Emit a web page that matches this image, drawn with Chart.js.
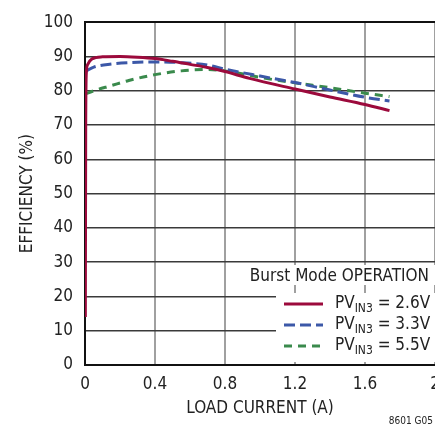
<!DOCTYPE html>
<html>
<head>
<meta charset="utf-8">
<script src="https://cdn.jsdelivr.net/npm/chart.js@4"></script>
<style>
  body { margin: 0; background: #fff; }
  canvas { display: block; }
</style>
</head>
<body>
<canvas id="efficiency" width="435" height="436"></canvas>
<script>
// load current (A) / efficiency (%) for each input voltage
const current26 = [0.002, 0.004, 0.008, 0.015, 0.04, 0.1, 0.2, 0.3, 0.4, 0.5, 0.6, 0.7, 0.8, 0.94, 1.2, 1.4, 1.6, 1.74];
const eff26 = [14, 70, 85.5, 87.6, 89.3, 89.9, 90, 89.8, 89.4, 88.6, 87.7, 86.8, 85.6, 83.6, 80.5, 78.2, 76, 74.2];

const current33 = [0.004, 0.05, 0.15, 0.25, 0.4, 0.55, 0.7, 0.8, 1.0, 1.2, 1.4, 1.6, 1.74];
const eff33 = [85.7, 86.9, 87.8, 88.2, 88.4, 88.2, 87.5, 86.3, 84.3, 82.4, 80.2, 78.1, 77];

const current55 = [0.004, 0.05, 0.15, 0.25, 0.4, 0.55, 0.7, 0.8, 1.0, 1.2, 1.4, 1.6, 1.74];
const eff55 = [79.1, 80, 81.5, 83, 84.7, 85.8, 86.2, 85.8, 83.9, 82.3, 80.9, 79.3, 78.3];

const xTicks = ['0', '0.4', '0.8', '1.2', '1.6', '2'];
const legendLabels = ['2.6V', '3.3V', '5.5V'];

const FONT = "'Liberation Sans Narrow', 'DejaVu Sans Condensed', sans-serif";

function points(xs, ys) {
  return xs.map((x, i) => ({ x: x, y: ys[i] }));
}

Chart.defaults.font.family = FONT;
Chart.defaults.color = '#222';

// white patches behind the legend text, then the legend itself
const legendPlugin = {
  id: 'legendBox',
  beforeDatasetsDraw(chart) {
    const ctx = chart.ctx;
    ctx.save();
    ctx.fillStyle = '#fff';
    ctx.fillRect(250, 265, 186, 20);
    ctx.fillRect(276, 293, 160, 69);
    ctx.restore();
  },
  afterDraw(chart) {
    const ctx = chart.ctx;
    const xs = chart.scales.x;
    ctx.save();
    ctx.fillStyle = '#222';
    // x tick labels (last one runs off the canvas like the original)
    ctx.font = '17px ' + FONT;
    ctx.textAlign = 'center';
    ctx.textBaseline = 'middle';
    xTicks.forEach(t => {
      ctx.fillText(t, xs.getPixelForValue(parseFloat(t)), 385);
    });

    ctx.font = '17px ' + FONT;
    ctx.textAlign = 'right';
    ctx.fillText('Burst Mode OPERATION', 429, 277);

    const rows = [304, 325, 346];
    chart.data.datasets.forEach((ds, i) => {
      const y = rows[i];
      ctx.strokeStyle = ds.borderColor;
      ctx.lineWidth = 3;
      ctx.setLineDash(ds.borderDash || []);
      ctx.beginPath();
      ctx.moveTo(284, y);
      ctx.lineTo(323, y);
      ctx.stroke();
      ctx.setLineDash([]);
      ctx.textAlign = 'left';
      ctx.font = '17px ' + FONT;
      let x = 335;
      ctx.fillText('PV', x, y);
      x += ctx.measureText('PV').width;
      ctx.font = '12px ' + FONT;
      ctx.fillText('IN3', x, y + 5);
      x += ctx.measureText('IN3').width;
      ctx.font = '17px ' + FONT;
      ctx.fillText(' = ' + legendLabels[i], x, y);
    });

    ctx.font = '10px ' + FONT;
    ctx.textAlign = 'right';
    ctx.fillText('8601 G05', 433, 421);
    ctx.restore();
  }
};

new Chart(document.getElementById('efficiency'), {
  type: 'scatter',
  data: {
    datasets: [{
      label: 'PVIN3 = 2.6V',
      data: points(current26, eff26),
      borderColor: '#9c0a3c',
      borderWidth: 3
    },
    {
      label: 'PVIN3 = 3.3V',
      data: points(current33, eff33),
      borderColor: '#3c58a8',
      borderWidth: 3,
      borderDash: [11, 5]
    },
    {
      label: 'PVIN3 = 5.5V',
      data: points(current55, eff55),
      borderColor: '#3a8a4c',
      borderWidth: 3,
      borderDash: [8, 6]
    }]
  },
  options: {
    responsive: false,
    animation: false,
    showLine: true,
    cubicInterpolationMode: 'monotone',
    pointRadius: 0,
    pointHoverRadius: 0,
    layout: { padding: { top: 15, right: 0, left: 0, bottom: 0 } },
    plugins: {
      legend: { display: false },
      tooltip: { enabled: false }
    },
    scales: {
      x: {
        type: 'linear',
        min: 0,
        max: 2,
        afterFit(scale) { scale.height = 71; },
        ticks: { display: false, stepSize: 0.4 },
        grid: { color: '#a0a0a0', lineWidth: 2, drawTicks: false },
        border: { color: '#111', width: 2 },
        title: {
          display: true,
          text: 'LOAD CURRENT (A)',
          font: { size: 17 },
          padding: { bottom: 17 }
        }
      },
      y: {
        min: 0,
        max: 100,
        afterFit(scale) { scale.width = 85; },
        ticks: { stepSize: 10, padding: 12, font: { size: 17 } },
        grid: {
          drawTicks: false,
          color: ctx => ctx.tick && ctx.tick.value === 100 ? '#111' : '#3a3a3a',
          lineWidth: ctx => ctx.tick && ctx.tick.value === 100 ? 2 : 1.5
        },
        border: { color: '#111', width: 2 },
        title: {
          display: true,
          text: 'EFFICIENCY (%)',
          font: { size: 17 },
          padding: { top: 17 }
        }
      }
    }
  },
  plugins: [legendPlugin]
});
</script>
</body>
</html>
